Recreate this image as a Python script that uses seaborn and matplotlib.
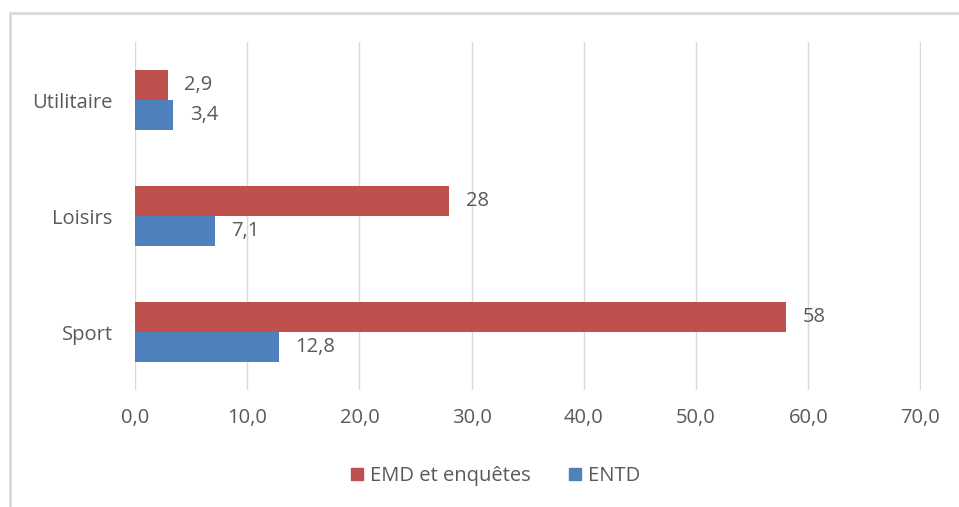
import pandas as pd
import matplotlib.pyplot as plt
import seaborn as sns
from matplotlib.patches import Rectangle

categories = ["Utilitaire", "Loisirs", "Sport"]
series = ["EMD et enquêtes", "ENTD"]
emd_values = [2.9, 28, 58]
entd_values = [3.4, 7.1, 12.8]
emd_labels = ["2,9", "28", "58"]
entd_labels = ["3,4", "7,1", "12,8"]
xticks = [0, 10, 20, 30, 40, 50, 60, 70]
xtick_labels = ["0,0", "10,0", "20,0", "30,0", "40,0", "50,0", "60,0", "70,0"]

colors = ["#C0504D", "#4F81BD"]
text_col = "#595959"
grid_col = "#D9D9D9"

data = pd.DataFrame({
    "categorie": categories * 2,
    "serie": [series[0]] * 3 + [series[1]] * 3,
    "valeur": emd_values + entd_values,
})

sns.set_style("white")
plt.rcParams['font.family'] = ['Open Sans', 'DejaVu Sans']
fs = 14.5

fig = plt.figure(figsize=(9.59, 5.07), dpi=100)
ax = fig.add_axes([0.1408, 0.2308, 0.8196, 0.6862])

sns.barplot(data=data, y="categorie", x="valeur", hue="serie", order=categories,
            hue_order=series, palette=colors, orient="h", width=0.52,
            saturation=1, linewidth=0, ax=ax, legend=False)

# data labels
for cont, labs in zip(ax.containers, [emd_labels, entd_labels]):
    ax.bar_label(cont, labels=labs, padding=12, fontsize=fs, color=text_col)

ax.set_xlim(0, 70.05)
ax.set_xticks(xticks)
ax.set_xticklabels(xtick_labels)
ax.set_ylim(2.5, -0.5)
ax.xaxis.grid(True, color=grid_col, linewidth=1)
ax.set_axisbelow(True)
for s in ax.spines.values():
    s.set_visible(False)
ax.tick_params(axis="both", length=0, labelsize=fs, colors=text_col)
ax.tick_params(axis="x", pad=13)
ax.tick_params(axis="y", pad=16)
ax.set_xlabel("")
ax.set_ylabel("")

# legend
handles = [Rectangle((0, 0), 1, 1, color=c) for c in colors]
fig.legend(handles, series, loc="center", bbox_to_anchor=(0.517, 0.061), ncol=2,
           frameon=False, fontsize=fs, labelcolor=text_col, handlelength=0.6,
           handleheight=0.6, handletextpad=0.35, columnspacing=1.9)

# chart frame
fig.add_artist(Rectangle((10 / 959, -0.01), 1.0, 1 - 13 / 507 + 0.01,
                         transform=fig.transFigure, fill=False,
                         edgecolor=grid_col, linewidth=2))

fig.savefig("out.png", dpi=100)
